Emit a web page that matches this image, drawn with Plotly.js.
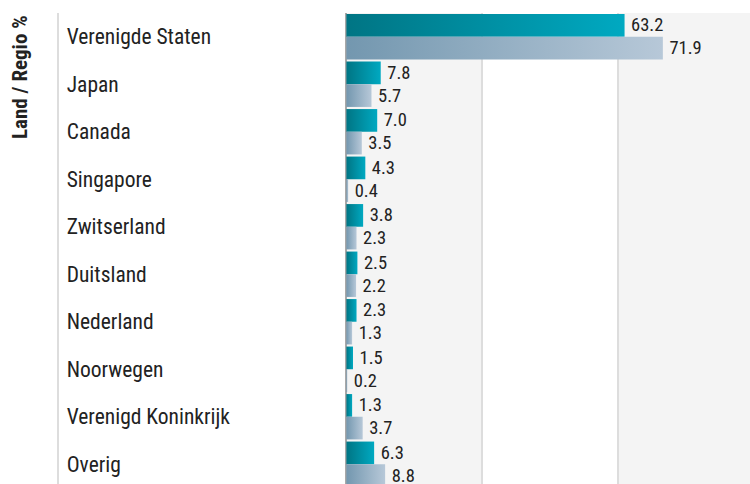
<!DOCTYPE html>
<html>
<head>
<meta charset="utf-8">
<script src="https://cdn.plot.ly/plotly-3.0.1.min.js"></script>
<style>
html,body{margin:0;padding:0;background:#fff;}
#chart{width:750px;height:484px;}
</style>
</head>
<body>
<div id="chart"></div>
<script>
const categories = ['Verenigde Staten','Japan','Canada','Singapore','Zwitserland','Duitsland','Nederland','Noorwegen','Verenigd Koninkrijk','Overig'];
const seriesA = [63.2, 7.8, 7.0, 4.3, 3.8, 2.5, 2.3, 1.5, 1.3, 6.3];
const seriesB = [71.9, 5.7, 3.5, 0.4, 2.3, 2.2, 1.3, 0.2, 3.7, 8.8];
const seriesNames = ['Fonds', 'Benchmark'];
const gridVals = [30.8, 61.6];
const xRange = [-65.3, 91.7];

const FONT = 'Roboto Condensed, Liberation Sans Narrow, Roboto, sans-serif';

const traces = [
  {type:'bar', orientation:'h', name:seriesNames[0], y:categories, x:seriesA,
   marker:{color:'#0090a4'}, texttemplate:'\u2009%{x:.1f}', textposition:'outside',
   constraintext:'none', cliponaxis:false,
   textfont:{family:FONT, size:18.5, color:'#222'}, hoverinfo:'x+y'},
  {type:'bar', orientation:'h', name:seriesNames[1], y:categories, x:seriesB,
   marker:{color:'#95aec4'}, texttemplate:'\u2009%{x:.1f}', textposition:'outside',
   constraintext:'none', cliponaxis:false,
   textfont:{family:FONT, size:18.5, color:'#222'}, hoverinfo:'x+y'}
];

const layout = {
  width:750, height:484,
  margin:{l:59, r:0, t:13, b:0, pad:0},
  paper_bgcolor:'#ffffff', plot_bgcolor:'#ffffff',
  barmode:'group', bargap:0.045, bargroupgap:0,
  showlegend:false,
  font:{family:FONT, color:'#222'},
  xaxis:{range:xRange, tickvals:gridVals, showticklabels:false, ticks:'',
         showgrid:true, gridcolor:'#dddddd', gridwidth:2,
         zeroline:true, zerolinecolor:'#a8a8a8', zerolinewidth:2, fixedrange:true},
  yaxis:{type:'category', categoryorder:'array', categoryarray:categories,
         range:[9.416, -0.5], autorange:false,
         showline:true, linecolor:'#dddddd', linewidth:2, showgrid:false, zeroline:false,
         ticks:'', ticklabelposition:'inside', ticklabelstandoff:9,
         tickfont:{family:FONT, size:21.5, color:'#222'}, fixedrange:true},
  shapes:[
    {type:'rect', xref:'x', yref:'paper', x0:0, x1:gridVals[0], y0:0, y1:1, fillcolor:'#f4f4f4', line:{width:0}, layer:'below'},
    {type:'rect', xref:'x', yref:'paper', x0:gridVals[1], x1:xRange[1], y0:0, y1:1, fillcolor:'#f4f4f4', line:{width:0}, layer:'below'}
  ],
  annotations:[
    {text:'<b>Land / Regio %</b>', xref:'paper', yref:'paper', x:-0.0565, y:1, xanchor:'center', yanchor:'top',
     textangle:-90, showarrow:false, font:{family:FONT, size:21, color:'#222'}}
  ]
};

Plotly.newPlot('chart', traces, layout, {displayModeBar:false, staticPlot:true}).then(function(gd){
  const svg = gd.querySelector('.main-svg');
  let defs = svg.querySelector('defs');
  const ns = 'http://www.w3.org/2000/svg';
  function grad(id, c0, c1){
    const g = document.createElementNS(ns,'linearGradient');
    g.setAttribute('id', id);
    g.setAttribute('x1','0'); g.setAttribute('y1','0'); g.setAttribute('x2','1'); g.setAttribute('y2','0');
    [[0,c0],[1,c1]].forEach(function(s){
      const st = document.createElementNS(ns,'stop');
      st.setAttribute('offset', s[0]); st.setAttribute('stop-color', s[1]);
      g.appendChild(st);
    });
    defs.appendChild(g);
  }
  grad('gradA', '#007584', '#00a9c1');
  grad('gradB', '#7397af', '#b7c8d8');
  const tr = gd.querySelectorAll('.barlayer .trace');
  tr.forEach(function(t, i){
    t.querySelectorAll('.point path').forEach(function(p){
      p.style.fill = 'url(#' + (i === 0 ? 'gradA' : 'gradB') + ')';
    });
  });
});
</script>
</body>
</html>
